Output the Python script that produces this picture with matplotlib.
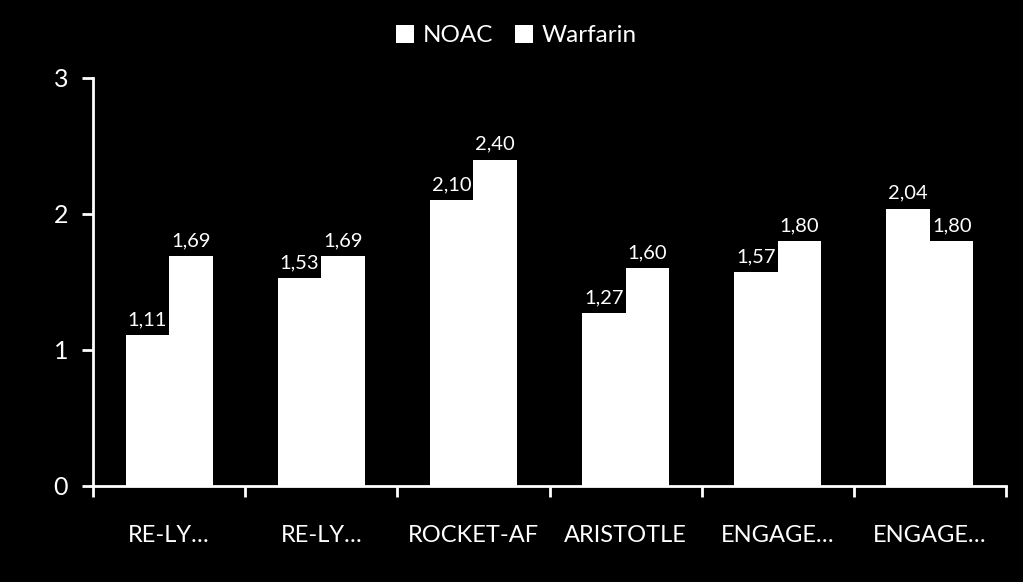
import matplotlib.pyplot as plt
import numpy as np

plt.rcParams['font.family'] = ['Lato', 'DejaVu Sans']

studier = ["RE-LY…", "RE-LY…", "ROCKET-AF", "ARISTOTLE", "ENGAGE…", "ENGAGE…"]
noac = [1.11, 1.53, 2.10, 1.27, 1.57, 2.04]
warfarin = [1.69, 1.69, 2.40, 1.60, 1.80, 1.80]

fig = plt.figure(figsize=(10.23, 5.82), dpi=100, facecolor="black")
ax = fig.add_axes([0.0909, 0.165, 0.8925, 0.701])
ax.set_facecolor("black")

x = np.arange(len(studier))
w = 0.286
b1 = ax.bar(x - w / 2, noac, w, color="white", label="NOAC")
b2 = ax.bar(x + w / 2, warfarin, w, color="white", label="Warfarin")

for bars, vals in ((b1, noac), (b2, warfarin)):
    for r, v in zip(bars, vals):
        ax.text(r.get_x() + r.get_width() / 2, v + 0.05, f"{v:.2f}".replace(".", ","),
                ha="center", va="bottom", color="white", fontsize=14.5)

ax.set_xlim(-0.5, len(studier) - 0.5)
ax.set_ylim(0, 3)
ax.set_yticks([0, 1, 2, 3])
ax.set_xticks(np.arange(len(studier) + 1) - 0.5)
ax.set_xticklabels([])
ax.set_xticks(x, minor=True)
ax.set_xticklabels(studier, minor=True)
ax.tick_params(axis="x", which="minor", length=0, pad=28, labelsize=17, colors="white")
ax.tick_params(axis="x", which="major", length=8, width=2, color="white")
ax.tick_params(axis="y", length=8, width=2, color="white", labelcolor="white", labelsize=18, pad=10)

for s in ("top", "right"):
    ax.spines[s].set_visible(False)
for s in ("left", "bottom"):
    ax.spines[s].set_color("white")
    ax.spines[s].set_linewidth(2)

leg = fig.legend(loc="upper center", bbox_to_anchor=(0.505, 0.995), ncol=2, frameon=False,
                 fontsize=17.5, labelcolor="white", handlelength=0.75, handleheight=0.75,
                 handletextpad=0.35, columnspacing=0.9)

fig.savefig("out.png", facecolor="black")
